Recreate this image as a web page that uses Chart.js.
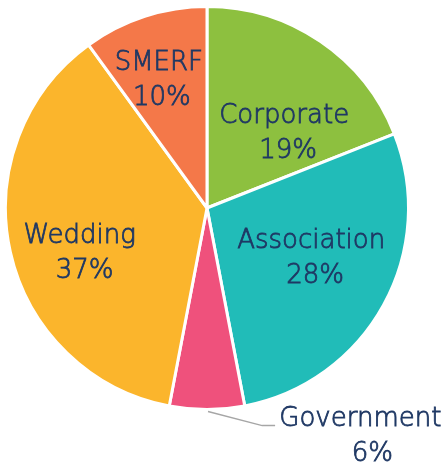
<!DOCTYPE html>
<html>
<head>
<meta charset="utf-8">
<script src="https://cdn.jsdelivr.net/npm/chart.js@4"></script>
<style>
  html, body { margin: 0; padding: 0; background: #fff; }
  #wrap { width: 446px; height: 466px; position: relative; }
</style>
</head>
<body>
<div id="wrap"><canvas id="eventChart"></canvas></div>
<script>
var segments = ['Corporate', 'Association', 'Government', 'Wedding', 'SMERF'];
var shares = [19, 28, 6, 37, 10];
var colors = ['#8DC03F', '#21BCB8', '#EF517C', '#FBB52C', '#F47849'];

// label positions: [x of name centre, y between the two baselines] as
// fractions of the radius from the pie centre, then a px nudge for the % line
var labelSpots = {
    Corporate: [0.383, -0.336, 4],
    Association: [0.517, 0.286, 4],
    Government: [0.761, 1.169, 12],
    Wedding: [-0.632, 0.261, 5],
    SMERF: [-0.239, -0.597, 3]
};

var labelPlugin = {
    id: 'sliceLabels',
    afterDatasetsDraw: function (chart) {
        var ctx = chart.ctx;
        var arcs = chart.getDatasetMeta(0).data;
        var cx = arcs[0].x, cy = arcs[0].y, r = arcs[0].outerRadius;
        ctx.save();
        ctx.font = '300 26px "DejaVu Sans"';
        ctx.fillStyle = '#1F3864';
        ctx.strokeStyle = '#1F3864';
        ctx.lineWidth = 0.8;
        ctx.textAlign = 'center';
        ctx.textBaseline = 'alphabetic';
        segments.forEach(function (name, i) {
            var spot = labelSpots[name];
            var x = cx + spot[0] * r;
            var y = cy + spot[1] * r;
            ctx.fillText(name, x, y - 17.5);
            ctx.strokeText(name, x, y - 17.5);
            ctx.fillText(shares[i] + '%', x + spot[2], y + 17.5);
            ctx.strokeText(shares[i] + '%', x + spot[2], y + 17.5);
        });

        // leader line for the small slice
        ctx.strokeStyle = '#A6A6A6';
        ctx.lineWidth = 1.5;
        ctx.beginPath();
        ctx.moveTo(cx + 0.005 * r, cy + 1.01 * r);
        ctx.lineTo(cx + 0.274 * r, cy + 1.08 * r);
        ctx.lineTo(cx + 0.338 * r, cy + 1.08 * r);
        ctx.stroke();
        ctx.restore();
    }
};

new Chart(document.getElementById('eventChart').getContext('2d'), {
    type: 'pie',
    data: {
        labels: segments,
        datasets: [{
            data: shares,
            backgroundColor: colors,
            borderColor: '#FFFFFF',
            borderWidth: 3
        }]
    },
    options: {
        responsive: true,
        maintainAspectRatio: false,
        animation: false,
        layout: { padding: { left: 4, right: 36, top: 5, bottom: 55 } },
        plugins: {
            legend: { display: false },
            tooltip: { enabled: false }
        }
    },
    plugins: [labelPlugin]
});
</script>
</body>
</html>
